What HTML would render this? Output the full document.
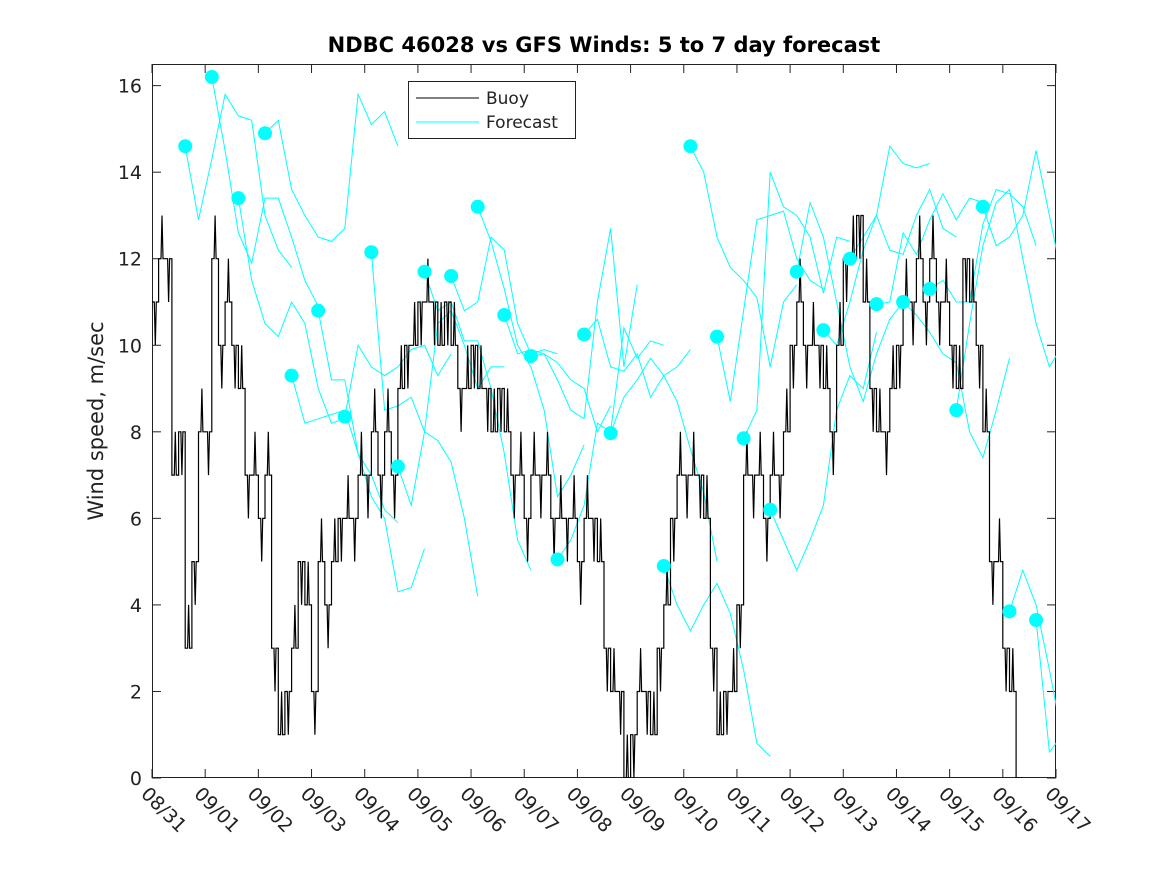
<!DOCTYPE html>
<html><head><meta charset="utf-8"><style>
body{margin:0;background:#fff;}
svg text{font-family:"DejaVu Sans","Liberation Sans",sans-serif;}
</style></head><body>
<svg id="chart" width="1167" height="875">
<rect width="1167" height="875" fill="#fff"/>
<text x="604" y="52" text-anchor="middle" font-size="21" font-weight="bold">NDBC 46028 vs GFS Winds: 5 to 7 day forecast</text>
<text transform="translate(103,421) rotate(-90)" text-anchor="middle" font-size="21" fill="#222">Wind speed, m/sec</text>
<defs><clipPath id="clip"><rect x="152" y="64" width="904" height="714"/></clipPath></defs>
<g id="axes"></g>
<g id="marks" clip-path="url(#clip)"></g>
<g id="dots"></g>
<g>
<rect x="408.5" y="81.5" width="167" height="57" fill="#fff" stroke="#222"/>
<line x1="416" y1="98" x2="479" y2="98" stroke="#000"/>
<text x="486" y="104" font-size="17" fill="#222">Buoy</text>
<line x1="416" y1="122" x2="479" y2="122" stroke="#00ffff"/>
<text x="486" y="128" font-size="17" fill="#222">Forecast</text>
</g>
</svg>
<script>
const xTickLabels=["08/31","09/01","09/02","09/03","09/04","09/05","09/06","09/07","09/08","09/09","09/10","09/11","09/12","09/13","09/14","09/15","09/16","09/17"];
const yTicks=[0,2,4,6,8,10,12,14,16];
const buoyStep=0.125;
const buoy=[11,12,12,7,8,3,5,8,8,12,10,11,10,9,7,7,6,7,3,1,2,3,5,4,2,5,4,5,6,6,6,7,7,8,7,8,7,9,10,10,11,11,11,10,11,10,9,9,10,9,9,8,9,8,7,7,6,7,7,7,6,6,6,6,5,6,6,5,3,2,2,0,1,2,2,1,3,4,6,7,7,7,7,6,3,1,2,2,4,7,7,7,6,7,7,8,10,11,10,10,10,9,8,10,12,12,13,11,9,8,8,9,10,11,11,12,11,12,11,11,10,9,12,11,10,8,5,5,3,2,0];
const fcStep=0.25;
const fcStarts=[0.625,1.125,1.625,2.125,2.625,3.125,3.625,4.125,4.625,5.125,5.625,6.125,6.625,7.125,7.625,8.125,8.625,9.625,10.125,10.625,11.125,11.625,12.125,12.625,13.125,13.625,14.125,14.625,15.125,15.625,16.125,16.625];
const fcValues=[
[14.6,12.9,14.3,15.8,15.3,15.2,13.0,12.2,11.8],
[16.2,14.5,12.6,11.9,13.4,13.4,12.5,11.5,10.9],
[13.4,11.5,10.5,10.2,11.0,10.5,9.0,8.2,8.3],
[14.9,15.2,13.6,13.0,12.5,12.4,12.7,15.8,15.1,15.4,14.6],
[9.3,8.2,8.3,8.4,8.5,7.5,7.0,6.2,5.9],
[10.8,9.2,9.2,7.5,6.5,6.0,4.3,4.4,5.3],
[8.35,10.0,9.5,9.3,9.5,9.9,10.0,9.3,9.8],
[12.15,8.5,8.6,8.8,8.0,7.8,7.3,6.0,4.2],
[7.2,6.3,8.0,10.5,10.8,10.0,9.0,9.5,9.5],
[11.7,10.8,11.0,10.1,10.1,9.0,7.5,5.5,4.8],
[11.6,10.8,11.0,12.5,12.2,10.5,9.8,9.9,9.8],
[13.2,12.4,11.3,10.0,9.5,8.5,6.5,7.0,7.7],
[10.7,9.8,9.9,9.8,9.6,9.2,9.0,8.0,8.6],
[9.75,9.8,9.2,8.5,8.3,11.0,12.7,9.5,11.4],
[5.05,5.5,6.3,8.2,8.0,10.4,9.7,10.1,10.0],
[10.25,10.6,9.5,9.4,9.8,8.8,9.3,9.5,9.9],
[7.97,8.8,9.2,9.7,9.3,8.7,7.6,6.6,5.0],
[4.9,4.0,3.4,4.0,4.5,3.8,2.5,0.8,0.5],
[14.6,14.0,12.5,11.8,11.5,11.1,9.5,11.0,11.4],
[10.2,8.7,10.8,12.9,13.0,13.1,12.0,11.5,11.3],
[7.85,8.5,14.0,13.2,13.0,12.5,11.2,12.5,12.4],
[6.2,5.5,4.8,5.5,6.3,8.5,9.3,9.0,10.3],
[11.7,13.3,12.5,11.0,9.5,8.7,9.8,10.6,11.0],
[10.35,10.0,11.0,12.2,13.0,14.6,14.2,14.1,14.2],
[12.0,12.5,13.0,12.2,12.1,13.0,13.6,12.7,12.5],
[10.95,11.0,12.6,12.1,12.9,13.5,12.9,13.4,13.3],
[11.0,10.7,10.3,9.8,9.6,8.0,7.4,8.5,9.7],
[11.3,11.5,11.0,11.0,12.8,13.6,13.5,13.2,12.3],
[8.5,10.5,12.3,13.3,13.6,12.0,10.5,9.5,10.0],
[13.2,12.3,12.5,13.0,14.5,13.0,11.5,10.0,8.0],
[3.85,4.8,4.0,2.5,0.9,1.3,1.0,1.2,2.3],
[3.65,0.6,1.0,2.2]
];
const NS="http://www.w3.org/2000/svg";
const X0=152,X1=1056,Y0=778,Y1=64,DMAX=17,VMAX=16.5;
function xs(d){return X0+(X1-X0)*d/DMAX;}
function ys(v){return Y0-(Y0-Y1)*v/VMAX;}
function mk(tag,attrs,parent){const e=document.createElementNS(NS,tag);for(const k in attrs)e.setAttribute(k,attrs[k]);parent.appendChild(e);return e;}
const axes=document.getElementById('axes'),marks=document.getElementById('marks'),dots=document.getElementById('dots');
const frame=mk('rect',{x:X0+0.5,y:Y1+0.5,width:X1-X0-1,height:Y0-Y1-1,fill:'none',stroke:'#222'},axes);


xTickLabels.forEach((l,i)=>{
  const x=xs(i);
  mk('line',{x1:x,y1:Y0,x2:x,y2:Y0-9,stroke:'#222'},axes);
  mk('line',{x1:x,y1:Y1,x2:x,y2:Y1+9,stroke:'#222'},axes);
  const t=mk('text',{x:0,y:0,transform:`translate(${x-12},${795}) rotate(45)`,'font-size':19,fill:'#222'},axes);
  t.textContent=l;
  
  
});
yTicks.forEach(v=>{
  const y=ys(v);
  mk('line',{x1:X0,y1:y,x2:X0+9,y2:y,stroke:'#222'},axes);
  mk('line',{x1:X1,y1:y,x2:X1-9,y2:y,stroke:'#222'},axes);
  const t=mk('text',{x:X0-10,y:y+7,'text-anchor':'end','font-size':19,fill:'#222'},axes);
  t.textContent=v;
  
  
});
fcValues.forEach((vals,i)=>{
  const pts=vals.map((v,j)=>xs(fcStarts[i]+j*fcStep).toFixed(1)+','+ys(v).toFixed(1)).join(' ');
  const p=mk('polyline',{points:pts,fill:'none',stroke:'#00ffff','stroke-width':1},marks);
  
  
});
let d='';
buoy.forEach((v,i)=>{
  const x0=xs(i*buoyStep),x1=xs((i+1)*buoyStep),y=ys(v);
  d+=(i===0?'M':'L')+x0.toFixed(1)+','+y.toFixed(1)+' ';
  const mid=(x0+x1)/2;
  d+='L'+(mid-1).toFixed(1)+','+y.toFixed(1)+' L'+mid.toFixed(1)+','+ys(v+(i%2?1:-1)).toFixed(1)+' L'+(mid+1).toFixed(1)+','+y.toFixed(1)+' ';
  d+='L'+x1.toFixed(1)+','+y.toFixed(1)+' ';
});
const bl=mk('path',{d:d,fill:'none',stroke:'#000','stroke-width':1.2},marks);


fcValues.forEach((vals,i)=>{
  const c=mk('circle',{cx:xs(fcStarts[i]),cy:ys(vals[0]),r:7,fill:'#00ffff'},dots);
  
  
});
</script>
</body></html>
